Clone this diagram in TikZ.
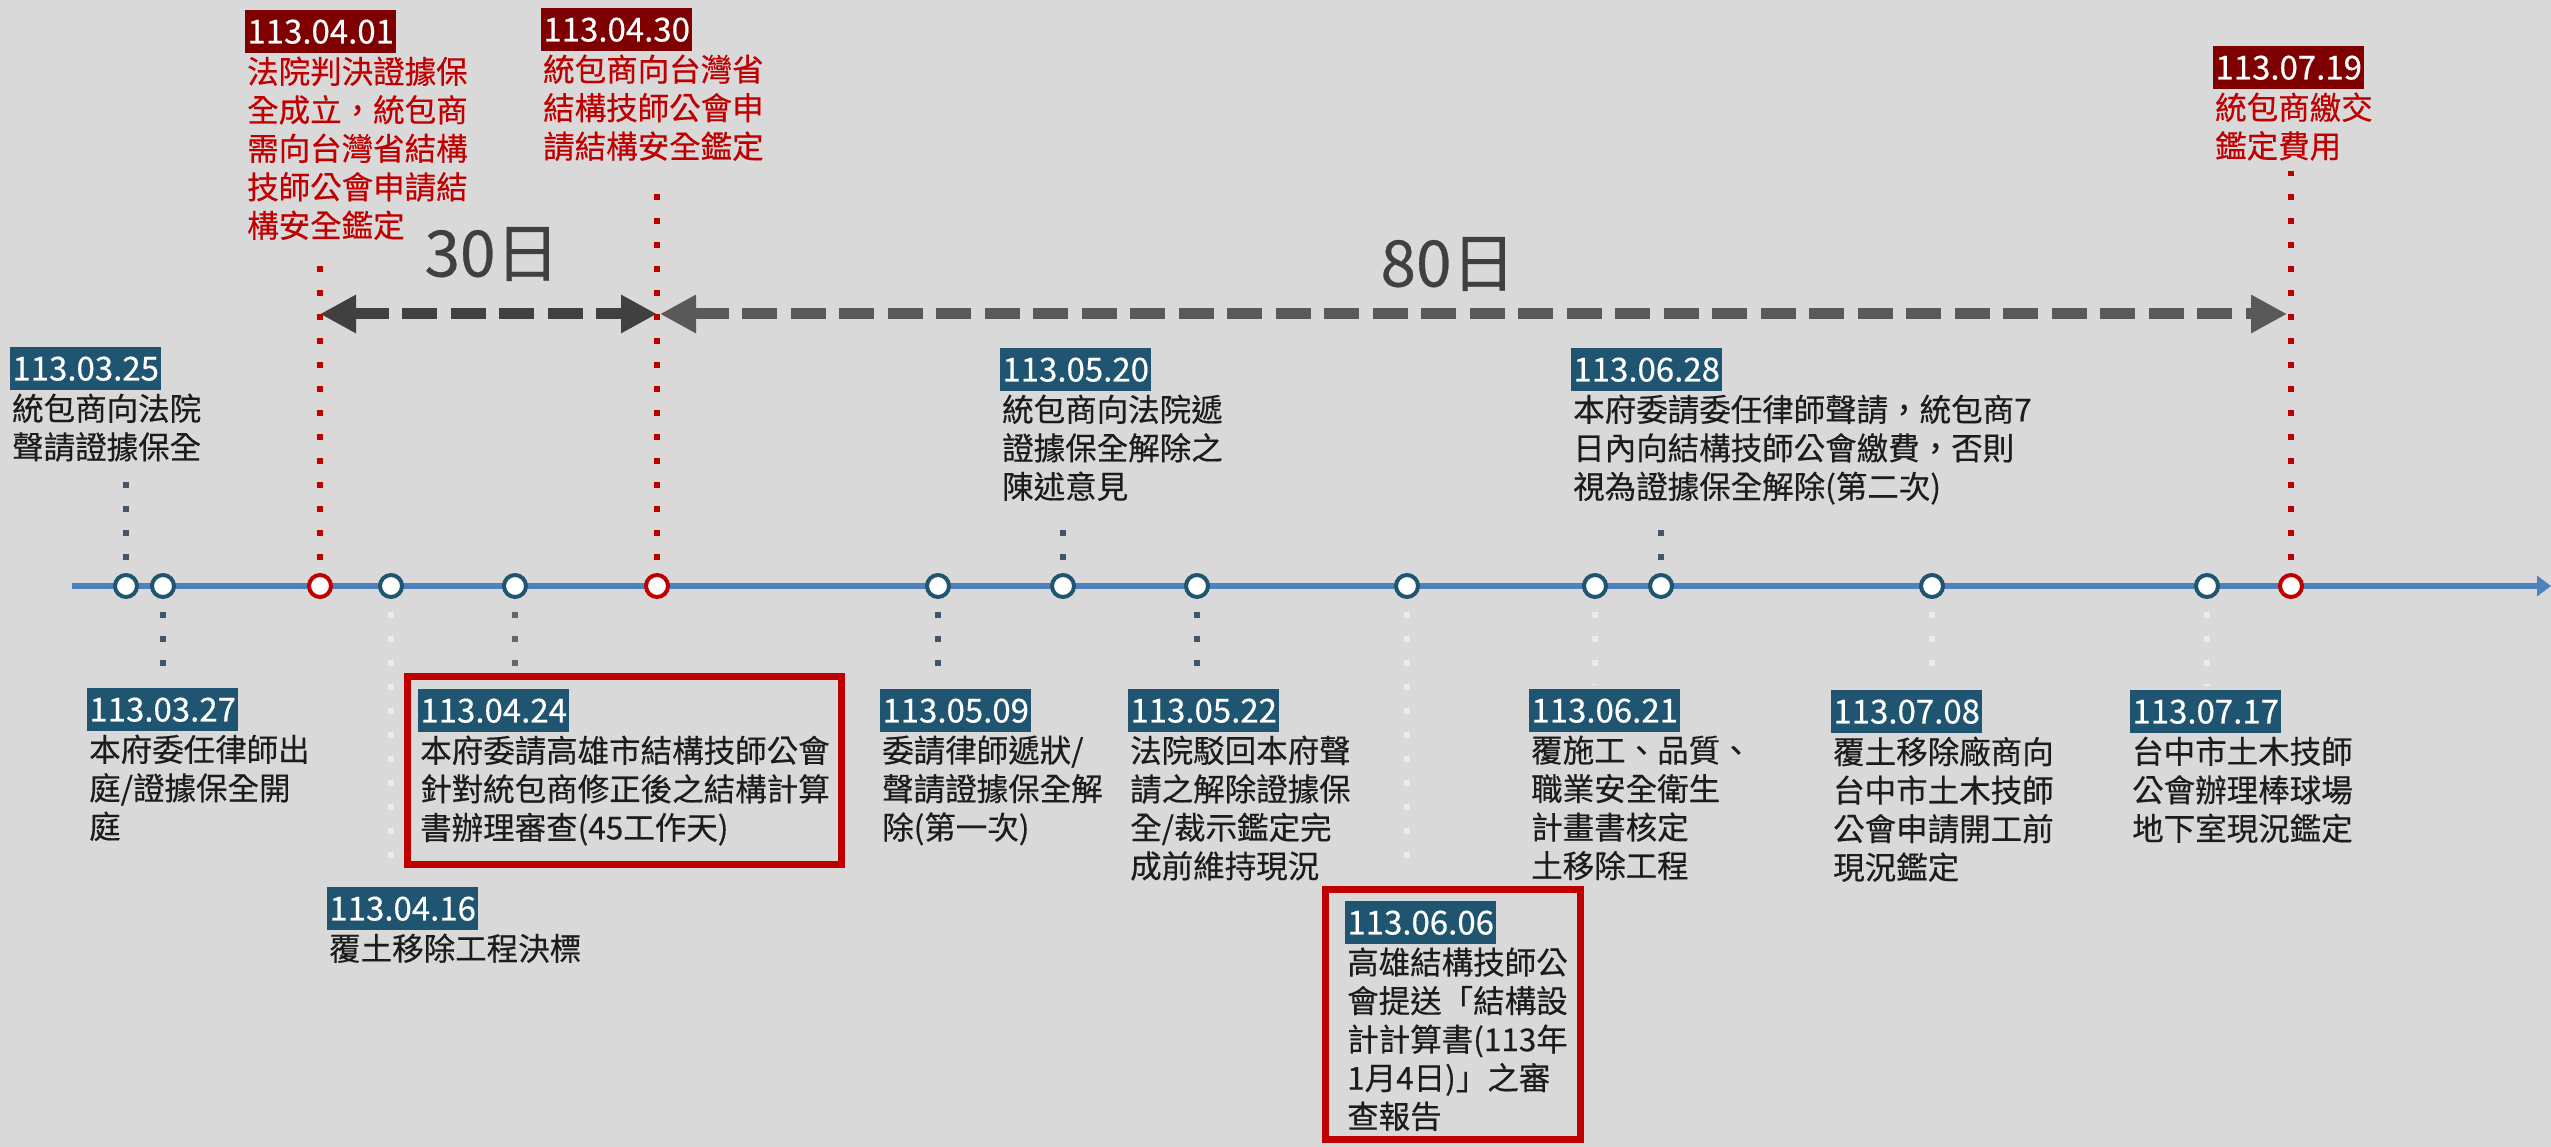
\documentclass[tikz,border=0pt]{standalone}
\usepackage{fontspec}
\setmainfont[FakeBold=0.4]{Noto Sans CJK TC}
\usetikzlibrary{positioning,arrows.meta}
\definecolor{bgray}{HTML}{D9D9D9}
\definecolor{lineblue}{HTML}{4F81BD}
\definecolor{datebg}{HTML}{1F5570}
\definecolor{darkred}{HTML}{7F0000}
\definecolor{redtxt}{HTML}{C00000}
\definecolor{txtblack}{HTML}{1C1C1C}
\definecolor{dotslate}{HTML}{44546A}
\definecolor{dotgray}{HTML}{666666}
\definecolor{dotlight}{HTML}{EBEBEB}
\definecolor{arrdark}{HTML}{404040}
\definecolor{arrmid}{HTML}{595959}
\begin{document}
\begin{tikzpicture}
  [x=1pt,y=-1pt,every node/.style={inner sep=0pt},
   ring/.style={circle,draw=datebg,fill=white,line width=4pt,minimum size=22pt},
   ringred/.style={ring,draw=redtxt},
   dateb/.style={fill=datebg,text=white,minimum width=151pt,minimum height=43pt,font=\fontsize{33}{33}\selectfont},
   dater/.style={dateb,fill=darkred},
   evtext/.style={align=left,text=txtblack,font=\fontsize{31.5}{38.5}\selectfont},
   evredtext/.style={evtext,text=redtxt},
   redbox/.style={draw=redtxt,line width=7pt,anchor=north west},
   dslate/.style={draw=dotslate,line width=6pt,dash pattern=on 6pt off 18pt,shorten <=13pt},
   dgray/.style={dslate,draw=dotgray},
   dlight/.style={dslate,draw=dotlight},
   dred/.style={dslate,draw=redtxt},
   daysarrow/.style={line width=11pt,dash pattern=on 35pt off 13.5pt,>={Triangle[length=36pt,width=36pt]},<->},
   days/.style={font=\fontsize{64}{64}\selectfont,text=arrdark}]
  \useasboundingbox (0,0) rectangle (2551,1147);
  \fill[bgray] (0,0) rectangle (2551,1147);

  \coordinate (tl0) at (72,586);
  \coordinate (tl1) at (2551,586);
  \draw[lineblue,line width=6pt,-{Triangle[length=14pt,width=20pt]}] (tl0) -- (tl1);

  \node (c0325)[ring] at (126,586) {};
  \node (c0327)[ring] at (163,586) {};
  \node (c0401)[ringred] at (320,586) {};
  \node (c0416)[ring] at (391,586) {};
  \node (c0424)[ring] at (515,586) {};
  \node (c0430)[ringred] at (657,586) {};
  \node (c0509)[ring] at (938,586) {};
  \node (c0520)[ring] at (1063,586) {};
  \node (c0522)[ring] at (1197,586) {};
  \node (c0606)[ring] at (1407,586) {};
  \node (c0621)[ring] at (1595,586) {};
  \node (c0628)[ring] at (1661,586) {};
  \node (c0708)[ring] at (1932,586) {};
  \node (c0717)[ring] at (2207,586) {};
  \node (c0719)[ringred] at (2291,586) {};

  \node (d0401)[dater,anchor=north west] at (245,10) {113.04.01};
  \node (t0401)[evredtext,below right=3pt and 2pt of d0401.south west] {法院判決證據保\\全成立，統包商\\需向台灣省結構\\技師公會申請結\\構安全鑑定};
  \node (d0430)[dater,anchor=north west] at (541,8) {113.04.30};
  \node (t0430)[evredtext,below right=3pt and 2pt of d0430.south west] {統包商向台灣省\\結構技師公會申\\請結構安全鑑定};
  \node (d0719)[dater,anchor=north west] at (2213,46) {113.07.19};
  \node (t0719)[evredtext,below right=3pt and 2pt of d0719.south west] {統包商繳交\\鑑定費用};

  \node (d0325)[dateb,anchor=north west] at (10,347) {113.03.25};
  \node (t0325)[evtext,below right=3pt and 2pt of d0325.south west] {統包商向法院\\聲請證據保全};
  \node (d0520)[dateb,anchor=north west] at (1000,348) {113.05.20};
  \node (t0520)[evtext,below right=3pt and 2pt of d0520.south west] {統包商向法院遞\\證據保全解除之\\陳述意見};
  \node (d0628)[dateb,anchor=north west] at (1571,348) {113.06.28};
  \node (t0628)[evtext,below right=3pt and 2pt of d0628.south west] {本府委請委任律師聲請，統包商7\\日內向結構技師公會繳費，否則\\視為證據保全解除(第二次)};

  \node (d0327)[dateb,anchor=north west] at (87,688) {113.03.27};
  \node (t0327)[evtext,below right=3pt and 2pt of d0327.south west] {本府委任律師出\\庭/證據保全開\\庭};
  \node (d0416)[dateb,anchor=north west] at (327,887) {113.04.16};
  \node (t0416)[evtext,below right=3pt and 2pt of d0416.south west] {覆土移除工程決標};
  \node (b0424)[redbox,minimum width=434pt,minimum height=188pt] at (404,673) {};
  \node (d0424)[dateb,anchor=north west] at (418,689) {113.04.24};
  \node (t0424)[evtext,below right=3pt and 2pt of d0424.south west] {本府委請高雄市結構技師公會\\針對統包商修正後之結構計算\\書辦理審查(45工作天)};
  \node (d0509)[dateb,anchor=north west] at (880,689) {113.05.09};
  \node (t0509)[evtext,below right=3pt and 2pt of d0509.south west] {委請律師遞狀/\\聲請證據保全解\\除(第一次)};
  \node (d0522)[dateb,anchor=north west] at (1128,689) {113.05.22};
  \node (t0522)[evtext,below right=3pt and 2pt of d0522.south west] {法院駁回本府聲\\請之解除證據保\\全/裁示鑑定完\\成前維持現況};
  \node (b0606)[redbox,minimum width=255pt,minimum height=250pt] at (1322,886) {};
  \node (d0606)[dateb,anchor=north west] at (1345,901) {113.06.06};
  \node (t0606)[evtext,below right=3pt and 2pt of d0606.south west] {高雄結構技師公\\會提送「結構設\\計計算書(113年\\1月4日)」之審\\查報告};
  \node (d0621)[dateb,anchor=north west] at (1529,689) {113.06.21};
  \node (t0621)[evtext,below right=3pt and 2pt of d0621.south west] {覆施工、品質、\\職業安全衛生\\計畫書核定\\土移除工程};
  \node (d0708)[dateb,anchor=north west] at (1831,690) {113.07.08};
  \node (t0708)[evtext,below right=3pt and 2pt of d0708.south west] {覆土移除廠商向\\台中市土木技師\\公會申請開工前\\現況鑑定};
  \node (d0717)[dateb,anchor=north west] at (2130,690) {113.07.17};
  \node (t0717)[evtext,below right=3pt and 2pt of d0717.south west] {台中市土木技師\\公會辦理棒球場\\地下室現況鑑定};

  \coordinate (a30s) at (c0401 |- 0,314);
  \coordinate (a30e) at (c0430 |- 0,314);
  \coordinate (a80e) at (c0719 |- 0,314);
  \draw[daysarrow,arrdark] (a30s) -- (a30e);
  \draw[daysarrow,arrmid] ([xshift=3pt]a30e) -- ([xshift=-4pt]a80e);
  \node (n30)[days] at (492,254) {30日};
  \node (n80)[days] at (1448,264) {80日};

  \foreach \c/\t/\s/\g in {c0325/t0325/dslate/9pt,c0401/t0401/dred/9pt,c0430/t0430/dred/25pt,c0520/t0520/dslate/12pt,c0628/t0628/dslate/12pt,c0719/t0719/dred/10pt}
    \draw[\s,shorten >=\g] (\c) -- (\t.south -| \c);
  \foreach \c/\t/\s/\g in {c0327/d0327/dslate/16pt,c0416/d0416/dlight/13pt,c0424/b0424/dgray/5pt,c0509/d0509/dslate/21pt,c0522/d0522/dslate/10pt,c0606/b0606/dlight/16pt,c0621/d0621/dlight/4pt,c0708/d0708/dlight/14pt,c0717/d0717/dlight/4pt}
    \draw[\s,shorten >=\g] (\c) -- (\t.north -| \c);
\end{tikzpicture}
\end{document}
